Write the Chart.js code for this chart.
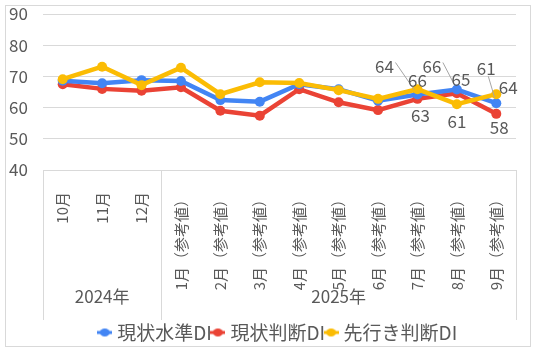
<!DOCTYPE html>
<html>
<head>
<meta charset="utf-8">
<script src="https://cdn.jsdelivr.net/npm/chart.js@4.4.1/dist/chart.umd.min.js"></script>
<style>
  html, body { margin: 0; padding: 0; background: #fff; }
  #wrap { width: 536px; height: 352px; }
</style>
</head>
<body>
<div id="wrap"><canvas id="chart"></canvas></div>
<script>
// Data
const months = ["10月", "11月", "12月", "1月（参考値）", "2月（参考値）", "3月（参考値）",
    "4月（参考値）", "5月（参考値）", "6月（参考値）", "7月（参考値）", "8月（参考値）", "9月（参考値）"];
const years = ["2024年", "2025年"];
const yearSpans = [3, 9];

const levelDI   = [68.6, 67.8, 68.8, 68.5, 62.4, 61.9, 67.5, 65.9, 62.2, 64.2, 65.8, 61.4];
const currentDI = [67.5, 66.0, 65.4, 66.5, 59.0, 57.4, 65.9, 61.7, 59.2, 62.8, 64.6, 58.0];
const outlookDI = [69.1, 73.1, 67.2, 72.8, 64.3, 68.1, 67.9, 65.6, 62.8, 65.9, 61.1, 64.3];

const yMin = 40, yMax = 90, yStep = 10;

const BLUE = "#4285F4", RED = "#EA4335", YELLOW = "#FBBC04";
const TEXT = "#595959", GRID = "#d9d9d9";
const FONT = '"Noto Sans CJK JP", "Noto Sans", sans-serif';

// label placement for the last three months: [dx, dy, leader]
const labelOffsets = [
    { 9: [-33, -28, "right"], 10: [-25, -23, "right"], 11: [-10, -35, "bottom"] },
    { 9: [3, 17], 10: [4, -14], 11: [3, 14] },
    { 9: [0, -9], 10: [0, 17], 11: [12, -7] }
];

// legend marker: short line with a dot
function marker(color) {
    const c = document.createElement("canvas");
    c.width = 15; c.height = 10;
    const g = c.getContext("2d");
    g.strokeStyle = color; g.lineWidth = 3;
    g.beginPath(); g.moveTo(0, 5); g.lineTo(15, 5); g.stroke();
    g.fillStyle = color;
    g.beginPath(); g.ellipse(7.5, 5, 5, 4, 0, 0, Math.PI * 2); g.fill();
    return c;
}

// Plugins
const frame = {
    id: "frame",
    beforeDraw(chart) {
        const ctx = chart.ctx;
        ctx.save();
        ctx.fillStyle = "#fff";
        ctx.fillRect(0, 0, chart.width, chart.height);
        ctx.strokeStyle = GRID;
        ctx.lineWidth = 1;
        ctx.strokeRect(5.5, 5.5, 525, 341);
        ctx.restore();
    }
};

const yearAxis = {
    id: "yearAxis",
    afterDraw(chart) {
        const x = chart.scales.x;
        const ctx = chart.ctx;
        const top = chart.chartArea.bottom, bottom = x.bottom;
        ctx.save();
        ctx.strokeStyle = GRID;
        ctx.lineWidth = 1;
        ctx.font = "17px " + FONT;
        ctx.fillStyle = TEXT;
        ctx.textAlign = "center";
        ctx.textBaseline = "middle";

        let start = 0;
        const edge = i => i === 0 ? x.left : (i >= months.length ? x.right :
            (x.getPixelForValue(i - 1) + x.getPixelForValue(i)) / 2);

        for (let k = 0; k <= years.length; k++) {
            const px = Math.round(edge(start)) + 0.5;
            ctx.beginPath(); ctx.moveTo(px, top); ctx.lineTo(px, bottom); ctx.stroke();
            if (k < years.length) {
                const end = start + yearSpans[k];
                ctx.fillText(years[k], (edge(start) + edge(end)) / 2, bottom - 23);
                start = end;
            }
        }
        ctx.restore();
    }
};

const dataLabels = {
    id: "dataLabels",
    afterDatasetsDraw(chart) {
        const ctx = chart.ctx;
        ctx.save();
        ctx.font = "17px " + FONT;
        ctx.fillStyle = TEXT;
        ctx.strokeStyle = "#a6a6a6";
        ctx.lineWidth = 1;
        ctx.textAlign = "center";
        ctx.textBaseline = "middle";
        chart.data.datasets.forEach((ds, i) => {
            const meta = chart.getDatasetMeta(i);
            const offs = labelOffsets[i];
            meta.data.forEach((pt, j) => {
                const o = offs[j];
                if (!o) return;
                const lx = pt.x + o[0], ly = pt.y + o[1];
                ctx.fillText(String(Math.round(ds.data[j])), lx, ly);
                if (o[2]) {
                    const sx = o[2] === "right" ? lx + 11 : lx + 2;
                    const sy = o[2] === "right" ? ly - 4 : ly + 8;
                    const dx = pt.x - sx, dy = pt.y - sy;
                    const len = Math.hypot(dx, dy);
                    ctx.beginPath();
                    ctx.moveTo(sx, sy);
                    ctx.lineTo(pt.x - dx / len * 6, pt.y - dy / len * 6);
                    ctx.stroke();
                }
            });
        });
        ctx.restore();
    }
};

// Chart
new Chart(document.getElementById("chart"), {
    type: "line",
    data: {
        labels: months,
        datasets: [
            { label: "現状水準DI", data: levelDI, borderColor: BLUE, backgroundColor: BLUE, order: 1 },
            { label: "現状判断DI", data: currentDI, borderColor: RED, backgroundColor: RED, order: 2 },
            { label: "先行き判断DI", data: outlookDI, borderColor: YELLOW, backgroundColor: YELLOW, order: 0 }
        ]
    },
    options: {
        responsive: true,
        maintainAspectRatio: false,
        animation: false,
        layout: { padding: { left: 9, right: 20, top: 14, bottom: 0 } },
        elements: {
            line: { borderWidth: 4.5, tension: 0 },
            point: { radius: 5, borderWidth: 0 }
        },
        scales: {
            x: {
                offset: true,
                grid: { display: false },
                border: { display: false },
                ticks: {
                    autoSkip: false, minRotation: 90, maxRotation: 90, padding: 14,
                    color: TEXT, font: { family: FONT, size: 15 }
                },
                afterFit(scale) { scale.height = 150; }
            },
            y: {
                min: yMin, max: yMax,
                grid: { color: GRID, drawTicks: false },
                border: { display: false },
                ticks: {
                    stepSize: yStep, padding: 0, crossAlign: "far",
                    color: TEXT, font: { family: FONT, size: 17 }
                },
                afterFit(scale) { scale.width = 34; }
            }
        },
        plugins: {
            tooltip: { enabled: false },
            legend: {
                position: "bottom",
                fullSize: false,
                labels: {
                    usePointStyle: true,
                    pointStyleWidth: 6,
                    padding: 3,
                    color: TEXT,
                    font: { family: FONT, size: 19 },
                    sort: (a, b) => a.datasetIndex - b.datasetIndex,
                    generateLabels(chart) {
                        return chart.data.datasets.map((ds, i) => ({
                            text: ds.label,
                            fontColor: TEXT,
                            pointStyle: marker(ds.borderColor),
                            fillStyle: ds.borderColor,
                            strokeStyle: ds.borderColor,
                            lineWidth: 0,
                            datasetIndex: i
                        }));
                    }
                }
            }
        }
    },
    plugins: [frame, yearAxis, dataLabels]
});
</script>
</body>
</html>
